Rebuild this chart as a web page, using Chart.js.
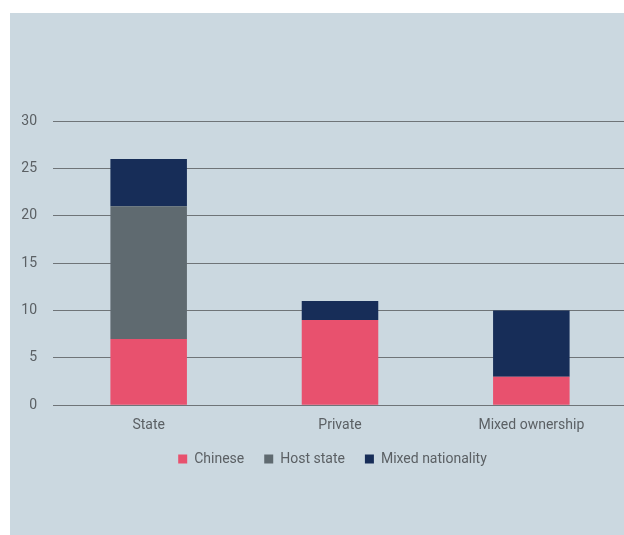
<!DOCTYPE html>
<html><head><meta charset="utf-8">
<script src="https://cdn.jsdelivr.net/npm/chart.js@4/dist/chart.umd.min.js"></script>
<style>
html,body{margin:0;padding:0;background:#fff;overflow:hidden;width:624px;height:535px;}
#panel{position:absolute;left:10px;top:13px;width:620px;height:522px;background:#cbd8e0;}
#wrap{position:absolute;left:10px;top:13px;width:617px;height:522px;}
</style></head><body>
<div id="panel"></div>
<div id="wrap"><canvas id="c" width="617" height="522"></canvas></div>
<script>
const categories = ["State", "Private", "Mixed ownership"];
const seriesNames = ["Chinese", "Host state", "Mixed nationality"];
const chinese = [7, 9, 3];
const hostState = [14, 0, 0];
const mixedNationality = [5, 2, 7];
const yTicks = [0, 5, 10, 15, 20, 25, 30];
const colors = ["#e8516e", "#5f6a70", "#172d58"];
const textColor = "#5b6064";
const font = "Roboto, 'Liberation Sans', sans-serif";

const shiftLegend = {
  id: "shiftLegend",
  afterLayout(chart) {
    const lg = chart.legend;
    lg.left += 14; lg.right += 14;
    lg.top -= 6; lg.bottom -= 6;
  }
};

new Chart(document.getElementById("c"), {
  type: "bar",
  data: {
    labels: categories,
    datasets: [
      {label: seriesNames[0], data: chinese, backgroundColor: colors[0]},
      {label: seriesNames[1], data: hostState, backgroundColor: colors[1]},
      {label: seriesNames[2], data: mixedNationality, backgroundColor: colors[2]}
    ]
  },
  plugins: [shiftLegend],
  options: {
    responsive: false,
    animation: false,
    devicePixelRatio: 1,
    layout: {padding: {top: 108, right: 0, bottom: 53, left: 0}},
    datasets: {bar: {barPercentage: 0.4, categoryPercentage: 1.0}},
    plugins: {
      tooltip: {enabled: false},
      legend: {
        position: "bottom",
        labels: {
          boxWidth: 9, boxHeight: 9, padding: 20,
          color: textColor,
          font: {family: font, size: 14}
        }
      }
    },
    scales: {
      x: {
        stacked: true,
        grid: {display: false},
        border: {display: false},
        ticks: {color: textColor, font: {family: font, size: 14}, padding: 4}
      },
      y: {
        stacked: true,
        min: 0, max: 30,
        afterFit: s => { s.width = 43; },
        afterBuildTicks: s => { s.ticks = yTicks.map(v => ({value: v})); },
        grid: {color: "#6f7478", lineWidth: 1, drawTicks: false},
        border: {display: false},
        ticks: {color: textColor, font: {family: font, size: 14}, padding: 16}
      }
    }
  }
});
</script>
</body></html>
